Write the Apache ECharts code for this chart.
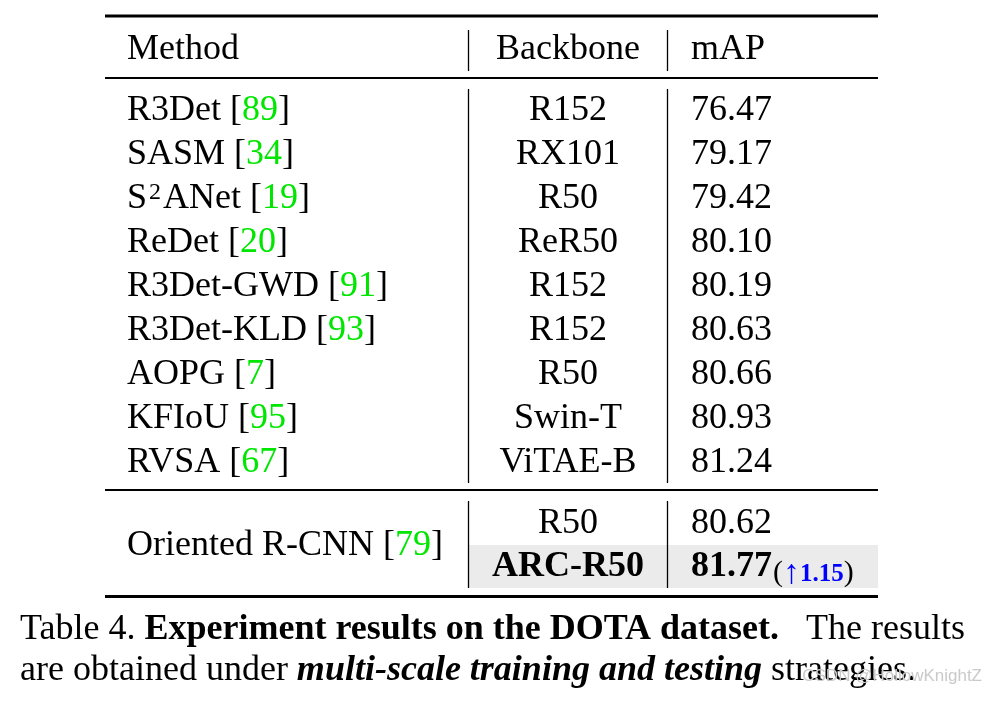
<!DOCTYPE html>
<html><head><meta charset="utf-8">
<script src="https://cdn.jsdelivr.net/npm/echarts@6/dist/echarts.min.js"></script>
<style>html,body{margin:0;padding:0;background:#fff}#c{width:996px;height:704px}</style>
</head><body><div id="c"></div>
<script>
// ---- data ----
const headers = ['Method', 'Backbone', 'mAP'];
const methods = ['R3Det', 'SASM', 'S\u00B2ANet', 'ReDet', 'R3Det-GWD', 'R3Det-KLD', 'AOPG', 'KFIoU', 'RVSA'];
const refs = [89, 34, 19, 20, 91, 93, 7, 95, 67];
const backbones = ['R152', 'RX101', 'R50', 'ReR50', 'R152', 'R152', 'R50', 'Swin-T', 'ViTAE-B'];
const mapValues = [76.47, 79.17, 79.42, 80.10, 80.19, 80.63, 80.66, 80.93, 81.24];
const oursMethod = 'Oriented R-CNN';
const oursRef = 79;
const oursBackbones = ['R50', 'ARC-R50'];
const oursMap = [80.62, 81.77];
const gain = 1.15;

// ---- layout ----
const FONT = 'Liberation Serif';
const FS = 36;
const X_METHOD = 127, X_BACKBONE = 568, X_MAP = 691, X_GAIN = 773;
const Y_HEADER = 50, Y_ROW0 = 111, ROW_H = 44, Y_GROUP0 = 524, GROUP_H = 43;
const TABLE_L = 105, TABLE_R = 878;
const V1 = 468.5, V2 = 667.5;

const base = { fontFamily: FONT, fontSize: FS, color: '#000', opacity: 1 };
const rich = {
  n: Object.assign({}, base),
  g: Object.assign({}, base, { color: '#00e600' }),
  b: Object.assign({}, base, { fontWeight: 'bold' }),
  sup: { fontFamily: FONT, fontSize: 24, color: '#000', verticalAlign: 'middle', padding: [0, 2, 12, 2] },
  p: { fontFamily: FONT, fontSize: 30, color: '#000', verticalAlign: 'middle' },
  a: { fontFamily: FONT, fontSize: 34, color: '#0000ff', verticalAlign: 'middle', padding: [2, 0, 0, 0] },
  v: { fontFamily: FONT, fontSize: 25, color: '#0000ff', fontWeight: 'bold', verticalAlign: 'middle', padding: [4, 0, 0, 0] }
};

function methodText(m) {
  // superscript digits rendered as a raised smaller token
  return m.split('\u00B2').map(s => '{n|' + s + '}').join('{sup|2}');
}

function textSeries(points, align) {
  return {
    type: 'scatter', symbolSize: 0, silent: true, z: 10,
    itemStyle: { opacity: 1 },
    data: points.map(p => ({ value: [p.x, p.y], label: { formatter: p.t } })),
    label: { show: true, position: 'inside', align: align, verticalAlign: 'middle', rich: rich, opacity: 1, fontFamily: FONT, fontSize: FS, color: '#000' },
    emphasis: { disabled: true }
  };
}

const leftPts = [], centerPts = [];
leftPts.push({ x: X_METHOD, y: Y_HEADER, t: '{n|' + headers[0] + '}' });
centerPts.push({ x: X_BACKBONE, y: Y_HEADER, t: '{n|' + headers[1] + '}' });
leftPts.push({ x: X_MAP, y: Y_HEADER, t: '{n|' + headers[2] + '}' });
methods.forEach((m, i) => {
  const y = Y_ROW0 + i * ROW_H;
  leftPts.push({ x: X_METHOD, y: y, t: methodText(m + ' [') + '{g|' + refs[i] + '}{n|]}' });
  centerPts.push({ x: X_BACKBONE, y: y, t: '{n|' + backbones[i] + '}' });
  leftPts.push({ x: X_MAP, y: y, t: '{n|' + mapValues[i].toFixed(2) + '}' });
});
leftPts.push({ x: X_METHOD, y: Y_GROUP0 + GROUP_H / 2, t: '{n|' + oursMethod + ' [}{g|' + oursRef + '}{n|]}' });
oursBackbones.forEach((b, i) => {
  const y = Y_GROUP0 + i * GROUP_H;
  const st = i === oursBackbones.length - 1 ? 'b' : 'n';
  centerPts.push({ x: X_BACKBONE, y: y, t: '{' + st + '|' + b + '}' });
  leftPts.push({ x: X_MAP, y: y, t: '{' + st + '|' + oursMap[i].toFixed(2) + '}' });
});
leftPts.push({ x: X_GAIN, y: Y_GROUP0 + GROUP_H + 6, t: '{p|(}{a|\u2191}{v|' + gain.toFixed(2) + '}{p|)}' });

function rule(x1, y1, x2, y2, w) {
  return {
    type: 'line', silent: true, symbol: 'none', z: 5, animation: false,
    data: [[x1, y1], [x2, y2]],
    lineStyle: { color: '#000', width: w }
  };
}

const series = [
  {
    type: 'line', silent: true, symbol: 'none', data: [], z: 1,
    markArea: {
      silent: true,
      itemStyle: { color: '#ebebeb' },
      data: [[{ coord: [V1, 545] }, { coord: [TABLE_R, 588] }]]
    }
  },
  rule(TABLE_L, 16, TABLE_R, 16, 3),
  rule(TABLE_L, 78, TABLE_R, 78, 1.8),
  rule(TABLE_L, 490, TABLE_R, 490, 1.8),
  rule(TABLE_L, 596.5, TABLE_R, 596.5, 3),
  rule(V1, 30, V1, 71, 1.3), rule(V2, 30, V2, 71, 1.3),
  rule(V1, 89, V1, 483, 1.3), rule(V2, 89, V2, 483, 1.3),
  rule(V1, 501, V1, 588, 1.3), rule(V2, 501, V2, 588, 1.3),
  textSeries(leftPts, 'left'),
  textSeries(centerPts, 'center')
];

const chart = echarts.init(document.getElementById('c'), null, { renderer: 'canvas' });
chart.setOption({
  animation: false,
  backgroundColor: '#fff',
  grid: { left: 0, right: 0, top: 0, bottom: 0 },
  xAxis: { type: 'value', min: 0, max: 996, show: false },
  yAxis: { type: 'value', min: 0, max: 704, inverse: true, show: false },
  title: [
    {
      left: 15, top: 604,
      text: '{n|Table 4. }{b|Experiment results on the DOTA dataset.}{n|   The results}\n{n|are obtained under }{bi|multi-scale training and testing}{n| strategies.}',
      textStyle: {
        fontFamily: FONT, fontSize: FS, fontWeight: 'normal', color: '#000', lineHeight: 41,
        rich: {
          n: { fontFamily: FONT, fontSize: FS, color: '#000', lineHeight: 41 },
          b: { fontFamily: FONT, fontSize: FS, color: '#000', fontWeight: 'bold', lineHeight: 41 },
          bi: { fontFamily: FONT, fontSize: FS, color: '#000', fontWeight: 'bold', fontStyle: 'italic', lineHeight: 41 }
        }
      }
    },
    {
      right: 9, top: 661,
      text: 'CSDN @HollowKnightZ',
      textStyle: { fontFamily: 'Liberation Sans', fontSize: 17, fontWeight: 'normal', color: '#cacaca', lineHeight: 20 }
    }
  ],
  series: series
});
</script>
</body></html>
